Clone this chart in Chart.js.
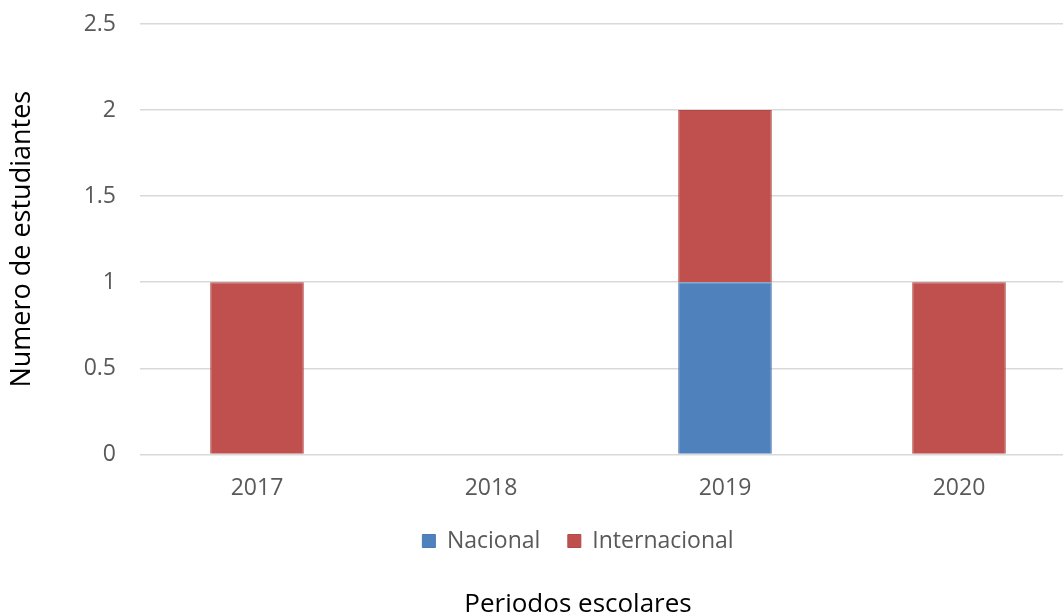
<!DOCTYPE html>
<html>
<head>
<meta charset="utf-8">
<script src="https://cdn.jsdelivr.net/npm/chart.js@4/dist/chart.umd.min.js"></script>
<style>
  html, body { margin: 0; padding: 0; background: #ffffff; overflow: hidden; }
  #wrap { position: relative; width: 1076px; height: 616px; }
</style>
</head>
<body>
<div id="wrap"><canvas id="c"></canvas></div>
<script>
const categories = ['2017', '2018', '2019', '2020'];
const nacional = [0, 0, 1, 0];
const internacional = [1, 0, 1, 1];
const seriesNames = ['Nacional', 'Internacional'];
const yTitle = 'Numero de estudiantes';
const xTitle = 'Periodos escolares';

Chart.defaults.font.family = '"Open Sans", "DejaVu Sans", sans-serif';

new Chart(document.getElementById('c'), {
  type: 'bar',
  data: {
    labels: categories,
    datasets: [
      { label: seriesNames[0], data: nacional, backgroundColor: '#4F81BD', borderColor: '#4A7AB3', borderWidth: 1 },
      { label: seriesNames[1], data: internacional, backgroundColor: '#C0504D', borderColor: '#B44A47', borderWidth: 1 }
    ]
  },
  options: {
    responsive: true,
    maintainAspectRatio: false,
    animation: false,
    layout: { padding: { top: 24, right: 0, bottom: 0, left: 80 } },
    datasets: { bar: { categoryPercentage: 1.0, barPercentage: 0.4 } },
    scales: {
      x: {
        stacked: true,
        grid: { display: true, drawOnChartArea: false, drawTicks: true, tickLength: 20, color: 'transparent', tickColor: 'transparent' },
        border: { display: false },
        ticks: { color: '#595959', font: { size: 23 }, padding: 0 }
      },
      y: {
        stacked: true,
        min: 0,
        max: 2.5,
        grid: { color: '#d9d9d9', lineWidth: 1.5, drawTicks: true, tickLength: 24, tickColor: 'transparent' },
        border: { display: false },
        ticks: { stepSize: 0.5, color: '#595959', font: { size: 23 }, padding: 0, callback: (v) => String(v) },
        title: { display: true, text: yTitle, color: '#000000', font: { size: 27 }, padding: { top: -74, bottom: 0 } },
        afterFit: (s) => { s.width = 60; }
      }
    },
    plugins: {
      legend: {
        position: 'bottom',
        labels: { color: '#595959', font: { size: 23 }, boxWidth: 13, boxHeight: 13, padding: 27.5 }
      },
      title: {
        display: true,
        position: 'bottom',
        text: xTitle,
        color: '#000000',
        font: { size: 26, weight: 'normal', lineHeight: 0.85 },
        padding: { top: 31.4, bottom: 0 }
      },
      tooltip: { enabled: false }
    }
  }
});
</script>
</body>
</html>
